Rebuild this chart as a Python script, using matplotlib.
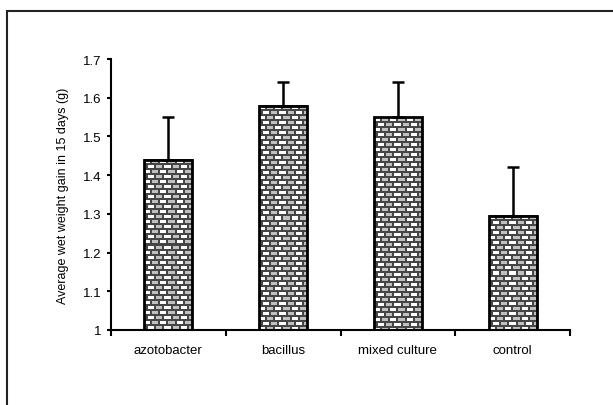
import matplotlib.pyplot as plt
from matplotlib.patches import Rectangle
import numpy as np

plt.rcParams['font.family'] = ['Liberation Sans', 'DejaVu Sans']

categories = ['azotobacter', 'bacillus', 'mixed culture', 'control']
means = [1.44, 1.58, 1.55, 1.295]
errors = [0.11, 0.06, 0.09, 0.125]
yticks = [1, 1.1, 1.2, 1.3, 1.4, 1.5, 1.6, 1.7]
ytick_labels = ['1', '1.1', '1.2', '1.3', '1.4', '1.5', '1.6', '1.7']


def brick_tile():
    # one 16x10 px tile of the brick fill, rows offset by half a brick
    dark, white, light = 0.27, 1.0, 0.75
    tile = np.full((10, 16), dark)
    for r, off in ((0, 0), (5, 4)):
        for k in range(2):
            c0 = (off + k * 8) % 16
            cols = [(c0 + i) % 16 for i in range(6)]
            tile[r + 1:r + 4, cols] = white if k == 0 else light
    return tile


fig = plt.figure(figsize=(6.13, 4.06), dpi=100)
ax = fig.add_axes([0.181, 0.185, 0.749, 0.667])

# outer frame (cut off at right and bottom like the source)
fig.patches.append(Rectangle((7 / 613, -0.1), 1.2, 1 - 12 / 406 + 0.1,
                             transform=fig.transFigure, fill=False,
                             edgecolor='#222222', linewidth=1.5))

x = np.arange(len(categories))
width = 0.42

ax.set_ylim(1, 1.7)
ax.set_xlim(-0.5, len(categories) - 0.5)

bars = ax.bar(x, means, width, fill=False, edgecolor='black', linewidth=2, zorder=3)
tile = brick_tile()
for b in bars:
    x0, y0 = b.get_x(), 1.0
    x1, y1 = b.get_x() + b.get_width(), b.get_height()
    (px0, py0), (px1, py1) = ax.transData.transform([(x0, y0), (x1, y1)])
    w, h = int(round(px1 - px0)), int(round(py1 - py0))
    tex = np.tile(tile, (h // tile.shape[0] + 1, w // tile.shape[1] + 1))[:h, :w]
    ax.imshow(tex, cmap='gray', vmin=0, vmax=1, extent=(x0, x1, y0, y1),
              origin='upper', interpolation='nearest', aspect='auto', zorder=2)

ax.errorbar(x, means, yerr=[np.zeros(len(errors)), errors], fmt='none',
            ecolor='black', elinewidth=1.8, capsize=4.5, capthick=1.8, zorder=4)

ax.set_ylim(1, 1.7)
ax.set_xlim(-0.5, len(categories) - 0.5)
ax.set_yticks(yticks)
ax.set_yticklabels(ytick_labels, fontsize=9.5)
ax.set_xticks(x)
ax.set_xticklabels(categories, fontsize=9.5)
ax.set_xticks(np.arange(len(categories) + 1) - 0.5, minor=True)
ax.tick_params(axis='x', which='major', length=0, pad=10)
ax.tick_params(axis='x', which='minor', length=4, width=1.5, direction='out')
ax.tick_params(axis='y', length=3, width=1.5, direction='out', pad=4)

ax.set_ylabel('Average wet weight gain in 15 days (g)', fontsize=9, labelpad=10)

for s in ['top', 'right']:
    ax.spines[s].set_visible(False)
for s in ['left', 'bottom']:
    ax.spines[s].set_linewidth(1.5)

fig.savefig('out.png', dpi=100)
